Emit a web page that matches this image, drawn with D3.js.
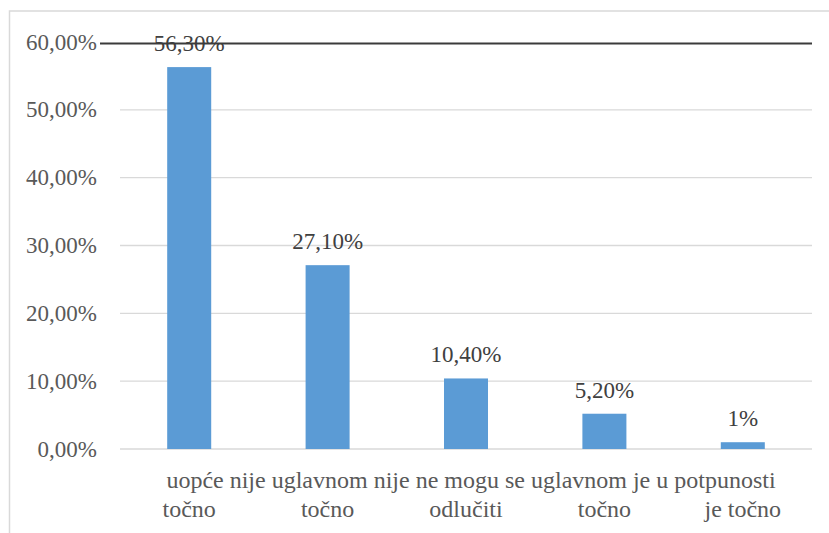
<!DOCTYPE html>
<html>
<head>
<meta charset="utf-8">
<script src="https://cdn.jsdelivr.net/npm/d3@7"></script>
</head>
<body style="margin:0">
<script>
// podaci
const categories = [
    ["uopće nije", "točno"],
    ["uglavnom nije", "točno"],
    ["ne mogu se", "odlučiti"],
    ["uglavnom je", "točno"],
    ["u potpunosti", "je točno"]
];
const values = [0.563, 0.271, 0.104, 0.052, 0.01];
const valueLabels = ["56,30%", "27,10%", "10,40%", "5,20%", "1%"];
const tickValues = [0, 0.1, 0.2, 0.3, 0.4, 0.5, 0.6];
const tickLabels = ["0,00%", "10,00%", "20,00%", "30,00%", "40,00%", "50,00%", "60,00%"];

const width = 829, height = 533;

const svg = d3.select("body").append("svg")
    .attr("width", width)
    .attr("height", height);

// okvir grafikona
svg.append("rect")
    .attr("x", 9.5)
    .attr("y", 11)
    .attr("width", 840)
    .attr("height", 540)
    .attr("fill", "#fff")
    .attr("stroke", "#d9d9d9")
    .attr("stroke-width", 1.5);

const x = d3.scaleBand()
    .domain(d3.range(categories.length))
    .range([120, 812])
    .paddingInner(0.682)
    .paddingOuter(0.341);

const y = d3.scaleLinear()
    .domain([0, 0.6])
    .range([449, 42]);

// mreža
svg.selectAll("line.grid")
    .data(tickValues.slice(0, -1))
    .enter()
    .append("line")
    .attr("class", "grid")
    .attr("x1", 120)
    .attr("x2", 812)
    .attr("y1", d => y(d))
    .attr("y2", d => y(d))
    .attr("stroke", "#d9d9d9")
    .attr("stroke-width", 1.3);

// oznake osi y
svg.selectAll("text.tick")
    .data(tickValues)
    .enter()
    .append("text")
    .attr("class", "tick")
    .attr("x", 97)
    .attr("y", d => y(d) + 7.5)
    .attr("text-anchor", "end")
    .attr("fill", "#595959")
    .style("font-family", d => "'Liberation Serif'")
    .attr("font-size", "23px")
    .text((d, i) => tickLabels[i]);

// stupci
svg.selectAll("rect.bar")
    .data(values)
    .enter()
    .append("rect")
    .attr("class", "bar")
    .attr("x", (d, i) => x(i))
    .attr("y", d => y(d))
    .attr("width", x.bandwidth())
    .attr("height", d => y(0) - y(d))
    .attr("fill", "#5b9bd5");

// vrijednosti iznad stupaca
svg.selectAll("text.value")
    .data(values)
    .enter()
    .append("text")
    .attr("class", "value")
    .attr("x", (d, i) => x(i) + x.bandwidth() / 2)
    .attr("y", d => y(d) - 16)
    .attr("text-anchor", "middle")
    .attr("fill", "#404040")
    .style("font-family", d => "'Liberation Serif'")
    .attr("font-size", "23px")
    .text((d, i) => valueLabels[i]);

// crna linija na 60%
svg.append("line")
    .attr("x1", 100)
    .attr("x2", 812)
    .attr("y1", y(0.6) + 1.5)
    .attr("y2", y(0.6) + 1.5)
    .attr("stroke", "#3b3b3b")
    .attr("stroke-width", 2);

// kategorije - prvi red teče kao jedan redak
svg.append("text")
    .attr("x", x(2) + x.bandwidth() / 2 + 5)
    .attr("y", 488)
    .attr("text-anchor", "middle")
    .attr("fill", "#595959")
    .style("font-family", "'Liberation Serif'")
    .attr("font-size", "24px")
    .text(categories.map(c => c[0]).join(" "));

svg.selectAll("text.cat2")
    .data(categories)
    .enter()
    .append("text")
    .attr("class", "cat2")
    .attr("x", (d, i) => x(i) + x.bandwidth() / 2)
    .attr("y", 517)
    .attr("text-anchor", "middle")
    .attr("fill", "#595959")
    .style("font-family", d => "'Liberation Serif'")
    .attr("font-size", "24px")
    .text(d => d[1]);
</script>
</body>
</html>
